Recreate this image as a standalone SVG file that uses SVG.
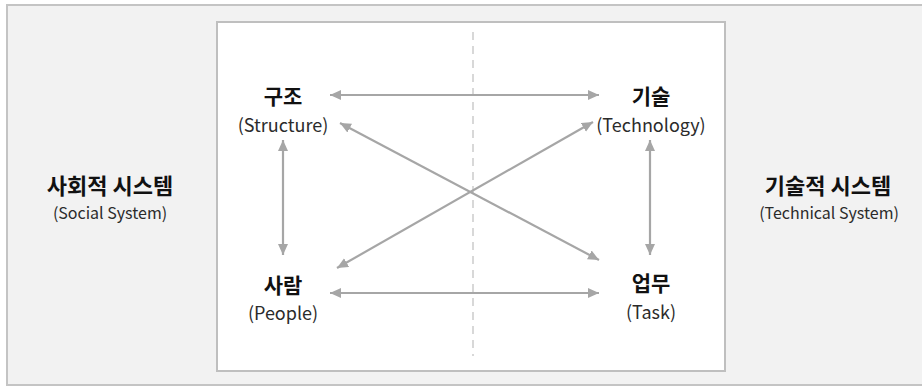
<svg xmlns="http://www.w3.org/2000/svg" width="922" height="387" viewBox="0 0 922 387">
<style>
.ko{font-family:"Noto Sans CJK KR","Noto Sans",sans-serif;font-weight:bold;fill:#111111;text-anchor:middle}
.en{font-family:"Noto Sans CJK KR","Noto Sans",sans-serif;fill:#2b2b2b;text-anchor:middle}
.conn{stroke:#a6a6a6;stroke-width:2.2;fill:none;marker-start:url(#ah);marker-end:url(#ah)}
</style>
<defs>
<marker id="ah" markerUnits="userSpaceOnUse" markerWidth="12" markerHeight="11" refX="11" refY="5" orient="auto-start-reverse">
<path d="M0,0 L11,5 L0,10 z" fill="#a6a6a6"/>
</marker>
</defs>
<rect x="7" y="5" width="930" height="380" fill="#f2f2f2" stroke="#c4c4c4" stroke-width="2"/>
<rect x="217" y="22" width="508" height="349" fill="#ffffff" stroke="#bfbfbf" stroke-width="2"/>
<line x1="473" y1="32" x2="473" y2="356" stroke="#cccccc" stroke-width="1.5" stroke-dasharray="8,6"/>
<g id="connectors">
<line class="conn" x1="330" y1="95" x2="599" y2="95"/>
<line class="conn" x1="330" y1="293" x2="599" y2="293"/>
<line class="conn" x1="283" y1="140" x2="283" y2="255"/>
<line class="conn" x1="650" y1="140" x2="650" y2="255"/>
<line class="conn" x1="340" y1="123" x2="599" y2="260"/>
<line class="conn" x1="337" y1="268" x2="593" y2="122"/>
</g>
<g id="structure">
<text class="ko" x="283" y="104" font-size="21">구조</text>
<text class="en" x="283" y="132" font-size="18">(Structure)</text>
</g>
<g id="technology">
<text class="ko" x="651" y="104" font-size="21">기술</text>
<text class="en" x="651" y="132" font-size="18">(Technology)</text>
</g>
<g id="people">
<text class="ko" x="283" y="293" font-size="21">사람</text>
<text class="en" x="283" y="320" font-size="18">(People)</text>
</g>
<g id="task">
<text class="ko" x="651" y="291" font-size="21">업무</text>
<text class="en" x="651" y="319" font-size="18">(Task)</text>
</g>
<g id="social-system">
<text class="ko" x="110" y="194" font-size="22">사회적 시스템</text>
<text class="en" x="110" y="219" font-size="16">(Social System)</text>
</g>
<g id="technical-system">
<text class="ko" x="828" y="194" font-size="22">기술적 시스템</text>
<text class="en" x="829" y="219" font-size="16">(Technical System)</text>
</g>
</svg>
